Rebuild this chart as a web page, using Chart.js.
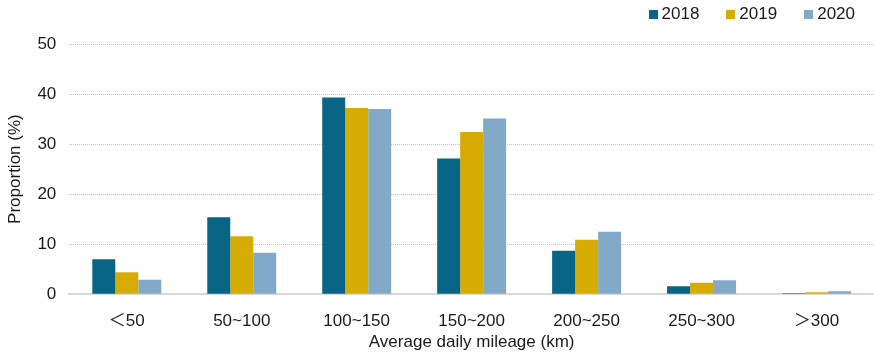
<!DOCTYPE html>
<html>
<head>
<meta charset="utf-8">
<script src="https://cdn.jsdelivr.net/npm/chart.js@4/dist/chart.umd.min.js"></script>
<style>
html,body{margin:0;padding:0;background:#fff;}
#wrap{width:874px;height:356px;position:relative;}
</style>
</head>
<body>
<div id="wrap"><canvas id="c" width="874" height="356"></canvas></div>
<script>
const categories = ["＜50", "50~100", "100~150", "150~200", "200~250", "250~300", "＞300"];
const seriesNames = ["2018", "2019", "2020"];
const values2018 = [7.0, 15.4, 39.3, 27.1, 8.7, 1.6, 0.2];
const values2019 = [4.4, 11.6, 37.2, 32.4, 10.9, 2.3, 0.4];
const values2020 = [2.9, 8.3, 37.0, 35.1, 12.5, 2.8, 0.6];
const colors = ["#086585", "#D6AC04", "#82A9C8"];
const yTicks = [0, 10, 20, 30, 40, 50];

const font = "'Liberation Sans', Arial, 'Noto Sans CJK SC', sans-serif";
const textColor = '#1a1a1a';

// Legend drawn at the top right (right-aligned), using dataset labels & colours
const topLegend = {
  id: 'topLegend',
  afterDraw(chart) {
    const ctx = chart.ctx;
    ctx.save();
    ctx.font = "17px " + font;
    ctx.textBaseline = 'middle';
    ctx.textAlign = 'left';
    const box = 9, gapBoxText = 4, gapItems = 27;
    const ds = chart.data.datasets;
    const widths = ds.map(d => box + gapBoxText + ctx.measureText(d.label).width);
    const total = widths.reduce((a, b) => a + b, 0) + gapItems * (ds.length - 1);
    let x = 855 - total;
    const cy = 14.5;
    ds.forEach((d, i) => {
      ctx.fillStyle = d.backgroundColor;
      ctx.fillRect(Math.round(x), 10, box, box);
      ctx.fillStyle = textColor;
      ctx.fillText(d.label, x + box + gapBoxText, cy);
      x += widths[i] + gapItems;
    });
    ctx.restore();
  }
};

new Chart(document.getElementById('c'), {
  type: 'bar',
  data: {
    labels: categories,
    datasets: [values2018, values2019, values2020].map((v, i) => ({
      label: seriesNames[i],
      data: v,
      backgroundColor: colors[i],
      borderWidth: 0,
      categoryPercentage: 0.6,
      barPercentage: 1.0
    }))
  },
  options: {
    responsive: false,
    animation: false,
    devicePixelRatio: 1,
    layout: { padding: { left: 5, right: 0, top: 44, bottom: 5 } },
    plugins: {
      tooltip: { enabled: false },
      legend: { display: false }
    },
    scales: {
      x: {
        grid: { display: false, drawTicks: false, tickLength: 0 },
        border: { display: true, color: '#d9d9d9', width: 2 },
        ticks: { color: textColor, font: { family: font, size: 17 }, padding: 17 },
        title: { display: true, text: 'Average daily mileage (km)', color: textColor, font: { family: font, size: 17 }, padding: { top: -16, bottom: -2 } }
      },
      y: {
        min: 0, max: 50,
        afterBuildTicks: (axis) => { axis.ticks = yTicks.map(v => ({ value: v })); },
        grid: { color: (ctx) => ctx.tick && ctx.tick.value === 0 ? 'rgba(0,0,0,0)' : '#c6c6c6', lineWidth: 1, drawTicks: false },
        border: { display: false, dash: [1, 1] },
        ticks: { color: textColor, font: { family: font, size: 17 }, padding: 13 },
        title: { display: true, text: 'Proportion (%)', color: textColor, font: { family: font, size: 17 }, padding: { top: 0, bottom: -1 } }
      }
    }
  },
  plugins: [topLegend]
});
</script>
</body>
</html>
